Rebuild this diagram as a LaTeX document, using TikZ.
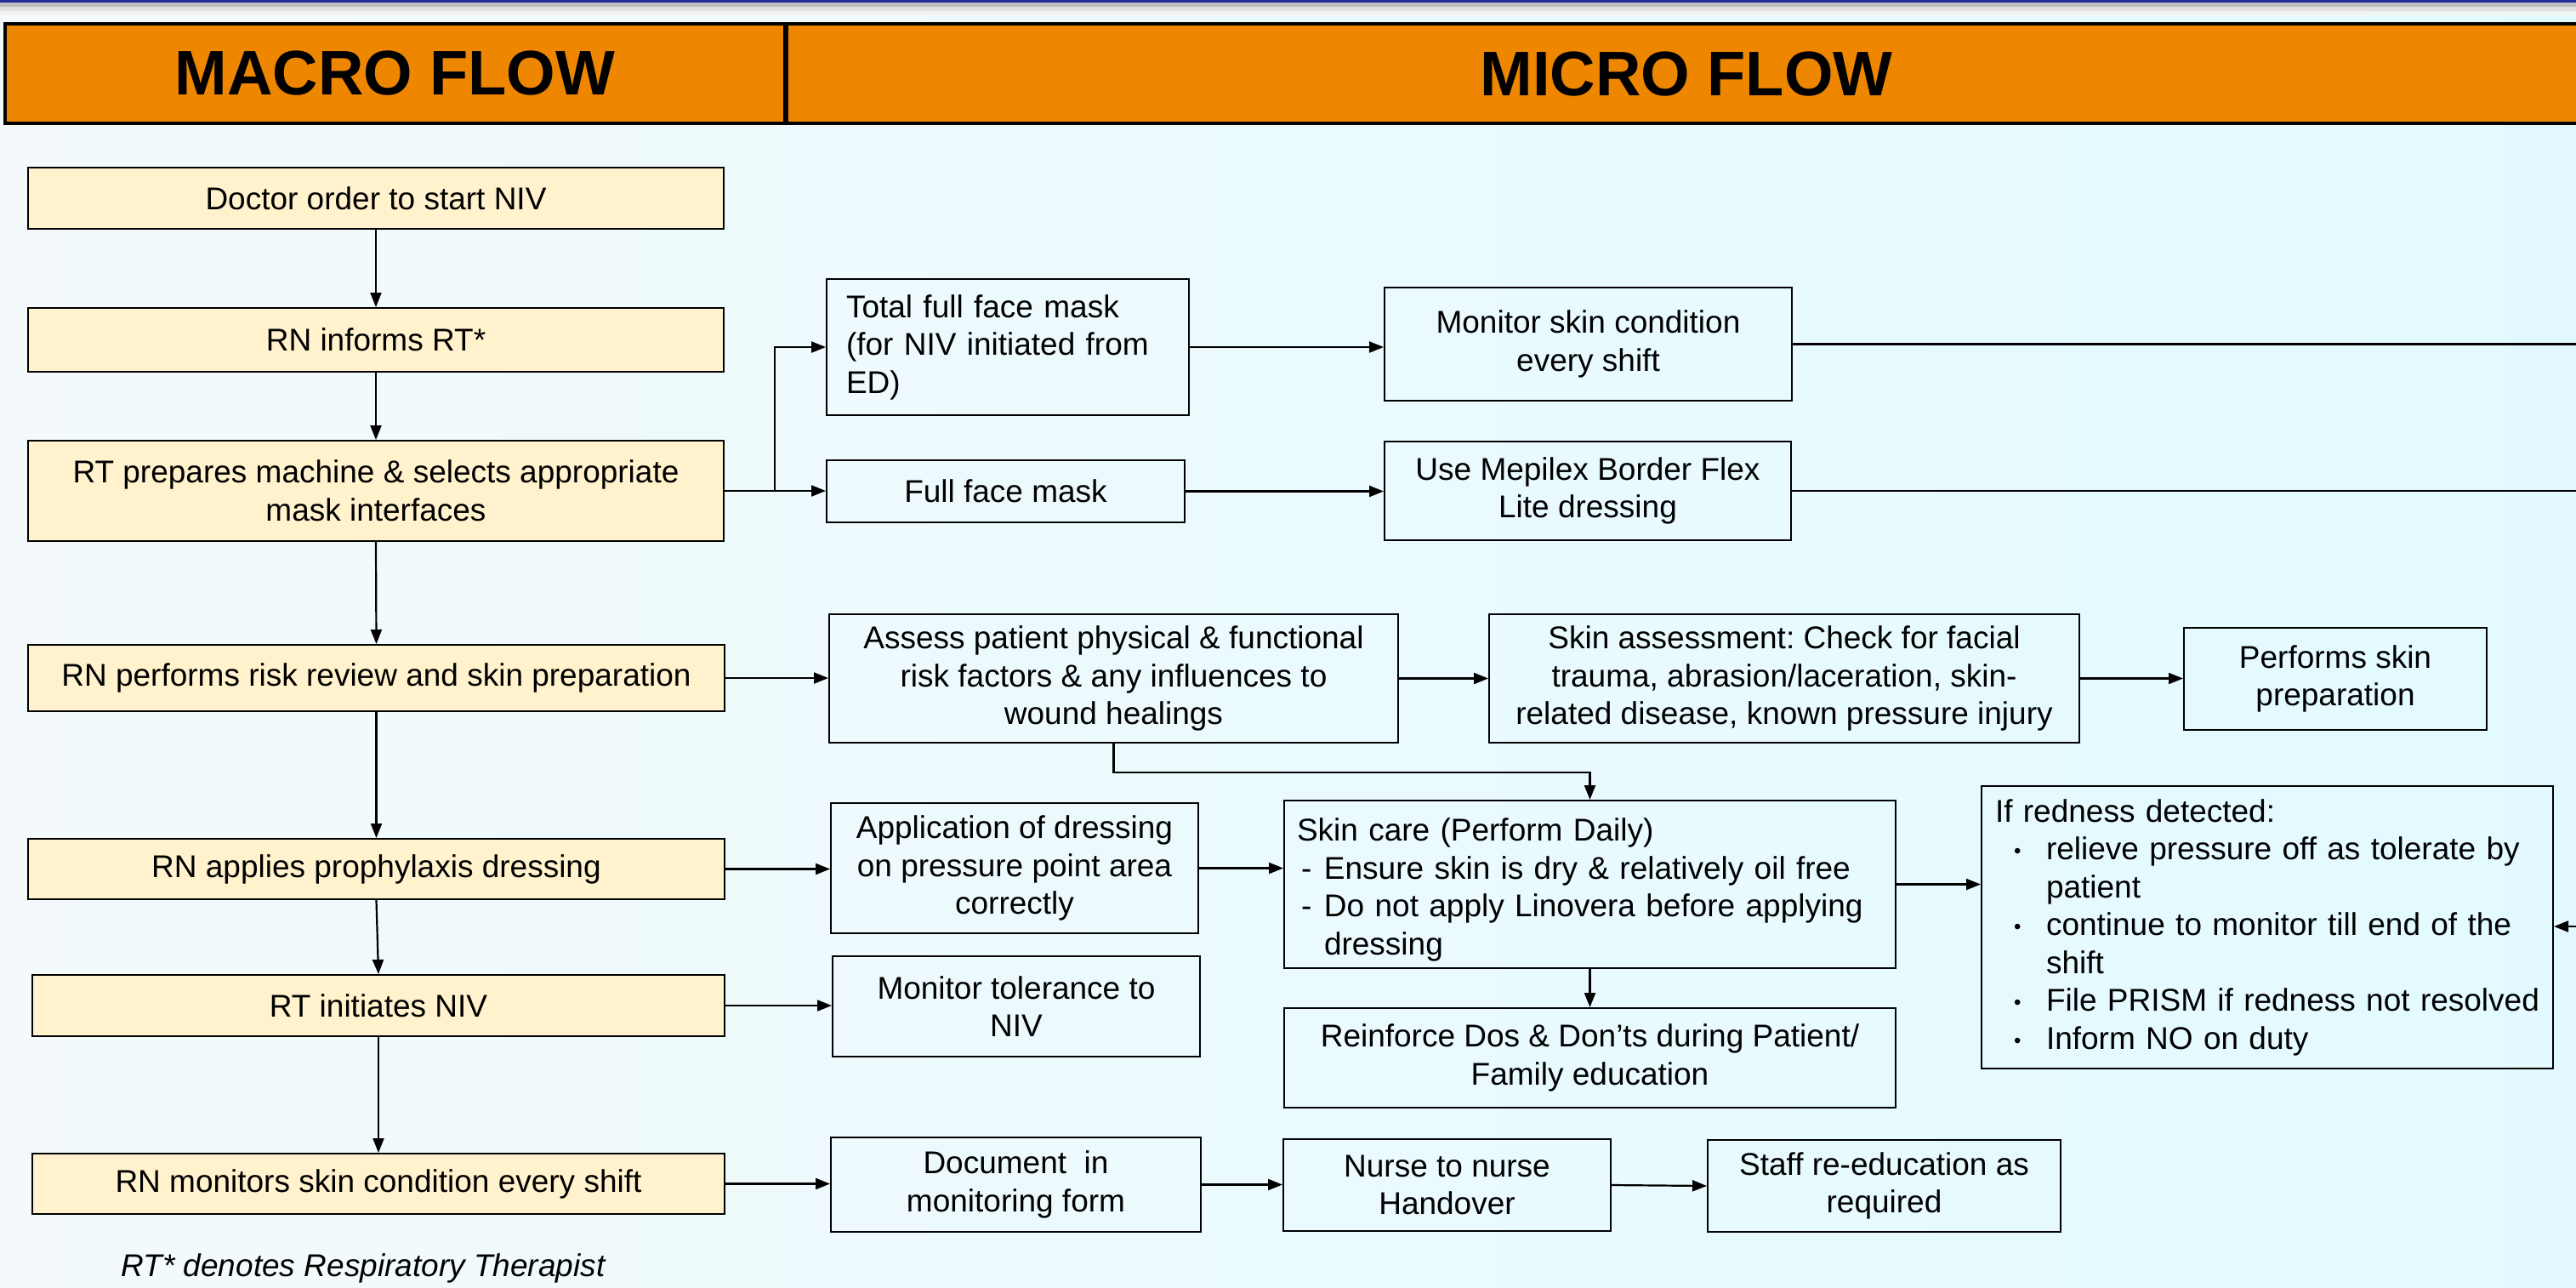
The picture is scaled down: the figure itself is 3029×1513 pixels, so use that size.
\documentclass[tikz,border=0pt]{standalone}
\usepackage{fontspec}
\setmainfont{Liberation Sans}
\usetikzlibrary{arrows.meta}
\frenchspacing
\definecolor{bgL}{RGB}{244,250,252}
\definecolor{bgR}{RGB}{226,250,255}
\definecolor{cream}{RGB}{255,242,204}
\definecolor{hdrorange}{RGB}{238,134,0}
\definecolor{topnavy}{RGB}{40,44,150}
\newcommand\txtsz{\fontsize{37}{44.5}\selectfont}
\newcommand\hdrsz{\fontsize{74}{80}\selectfont\bfseries}
\newcommand\redbul{\hspace*{22pt}\makebox[38pt][l]{\fontsize{24}{24}\selectfont\raisebox{2pt}{•}}}
\newcommand\cdash{\hspace*{5pt}\makebox[27pt][l]{-}}
\begin{document}
\frenchspacing
\begin{tikzpicture}[x=1pt,y=-1pt,
  macrobox/.style={draw=black, line width=2pt, fill=cream, font=\txtsz, align=center, inner sep=0pt},
  microbox/.style={draw=black, line width=2pt, font=\txtsz, align=center, inner sep=0pt},
  hdrbox/.style={draw=black, line width=4pt, fill=hdrorange, font=\hdrsz, inner sep=0pt},
  arr/.style={line width=2.2pt, -{Triangle[length=17pt,width=13pt]}},
  ln/.style={line width=2.2pt}]
\useasboundingbox (0,0) rectangle (3029,1513);
\shade[left color=bgL, right color=bgR] (0,0) rectangle (3029,1513);
\fill[topnavy] (0,0) rectangle (3029,3);
\fill[black!25] (0,3) rectangle (3029,8);
\fill[black!12] (0,8) rectangle (3029,13);
\fill[black!5] (0,13) rectangle (3029,18);
% header
\node[hdrbox, minimum width=917pt, minimum height=117pt] (macro) at (464.5,86.5) {MACRO FLOW};
\node[hdrbox, minimum width=2120pt, minimum height=117pt, anchor=west] (micro) at (923,86.5) {};
\node[font=\hdrsz] (microtxt) at (1983,87) {MICRO FLOW};
% macro column
\node[macrobox, minimum width=818pt, minimum height=72pt] (doc) at (442,233) {Doctor order to start NIV};
\node[macrobox, minimum width=818pt, minimum height=75pt] (inf) at (442,399.5) {RN informs RT*};
\node[macrobox, minimum width=818pt, minimum height=118pt] (prep) at (442,577) {RT prepares machine \& selects appropriate\\mask interfaces};
\node[macrobox, minimum width=819pt, minimum height=78pt] (perf) at (442.5,797) {RN performs risk review and skin preparation};
\node[macrobox, minimum width=819pt, minimum height=71pt] (appl) at (442.5,1021.5) {RN applies prophylaxis dressing};
\node[macrobox, minimum width=814pt, minimum height=72pt] (init) at (445,1182) {RT initiates NIV};
\node[macrobox, minimum width=814pt, minimum height=71pt] (mon) at (445,1391.5) {RN monitors skin condition every shift};
\node[font=\txtsz\itshape] (note) at (427,1491) {RT* denotes Respiratory Therapist};
% micro boxes
\node[microbox, align=left, text width=380pt, inner xsep=23pt, minimum height=160pt] (total) at (1185,408) {Total full face mask\\(for NIV initiated from\\ED)};
\node[microbox, minimum width=421pt, minimum height=73pt] (fullm) at (1182.5,577.5) {Full face mask};
\node[microbox, minimum width=479pt, minimum height=133pt] (mon2) at (1867.5,404.5) {Monitor skin condition\\every shift};
\node[microbox, minimum width=478pt, minimum height=116pt] (mepi) at (1867,577) {Use Mepilex Border Flex\\Lite dressing};
\node[microbox, minimum width=669pt, minimum height=151pt] (assess) at (1309.5,797.5) {Assess patient physical \& functional\\risk factors \& any influences to\\wound healings};
\node[microbox, minimum width=694pt, minimum height=151pt] (skin) at (2098,797.5) {Skin assessment: Check for facial\\trauma, abrasion/laceration, skin-\\related disease, known pressure injury};
\node[microbox, minimum width=356pt, minimum height=120pt] (pprep) at (2746,798) {Performs skin\\preparation};
\node[microbox, minimum width=432pt, minimum height=153pt] (applic) at (1193,1020.5) {Application of dressing\\on pressure point area\\correctly};
\node[microbox, align=left, text width=689pt, inner xsep=15pt, minimum height=197pt] (care) at (1869.5,1039.5) {\rule{0pt}{40pt}Skin care (Perform Daily)\\\cdash Ensure skin is dry \& relatively oil free\\\cdash Do not apply Linovera before applying\\\hspace*{32pt}dressing};
\node[microbox, minimum width=719pt, minimum height=117pt] (reinf) at (1869.5,1243.5) {Reinforce Dos \& Don’ts during Patient/\\Family education};
\node[microbox, align=left, text width=640pt, inner xsep=16pt, minimum height=332pt] (red) at (2666,1090) {If redness detected:\\\redbul relieve pressure off as tolerate by\\\hspace*{60pt}patient\\\redbul continue to monitor till end of the\\\hspace*{60pt}shift\\\redbul File PRISM if redness not resolved\\\redbul Inform NO on duty};
\node[microbox, minimum width=432pt, minimum height=118pt] (tol) at (1195,1183) {Monitor tolerance to\\NIV};
\node[microbox, minimum width=435pt, minimum height=111pt] (docu) at (1194.5,1392.5) {Document\ \ in\\monitoring form};
\node[microbox, minimum width=385pt, minimum height=108pt] (nurse) at (1701.5,1393) {Nurse to nurse\\Handover};
\node[microbox, minimum width=415pt, minimum height=108pt] (staff) at (2215.5,1394) {Staff re-education as\\required};
% coordinates
\coordinate (br) at (911,577);
\coordinate (redge) at (3029,0);
\coordinate (rin) at (3029,1089);
% macro arrows
\draw[arr] (doc.south) -- (inf.north);
\draw[arr] (inf.south) -- (prep.north);
\draw[arr] (prep.south) -- (perf.north);
\draw[arr] (perf.south) -- (appl.north);
\draw[arr] (appl.south) -- (init.north);
\draw[arr] (init.south) -- (mon.north);
% branches
\draw[arr] (prep.east) -- (fullm.west |- prep.east);
\draw[arr] (br) |- (total.west);
\draw[arr] (total.east) -- (total.east -| mon2.west);
\draw[arr] (fullm.east) -- (fullm.east -| mepi.west);
\draw[ln] (mon2.east) -- (mon2.east -| redge);
\draw[ln] (mepi.east) -- (mepi.east -| redge);
\draw[arr] (rin) -- (rin -| red.east);
\draw[arr] (perf.east) -- (perf.east -| assess.west);
\draw[arr] (assess.east) -- (assess.east -| skin.west);
\draw[arr] (skin.east) -- (skin.east -| pprep.west);
\draw[arr] (assess.south) -- ++(0,34) -| (care.north);
\draw[arr] (appl.east) -- (appl.east -| applic.west);
\draw[arr] (applic.east) -- (applic.east -| care.west);
\draw[arr] (care.east) -- (care.east -| red.west);
\draw[arr] (care.south) -- (reinf.north);
\draw[arr] (init.east) -- (init.east -| tol.west);
\draw[arr] (mon.east) -- (mon.east -| docu.west);
\draw[arr] (docu.east) -- (docu.east -| nurse.west);
\draw[arr] (nurse.east) -- (staff.west);
\end{tikzpicture}
\end{document}
